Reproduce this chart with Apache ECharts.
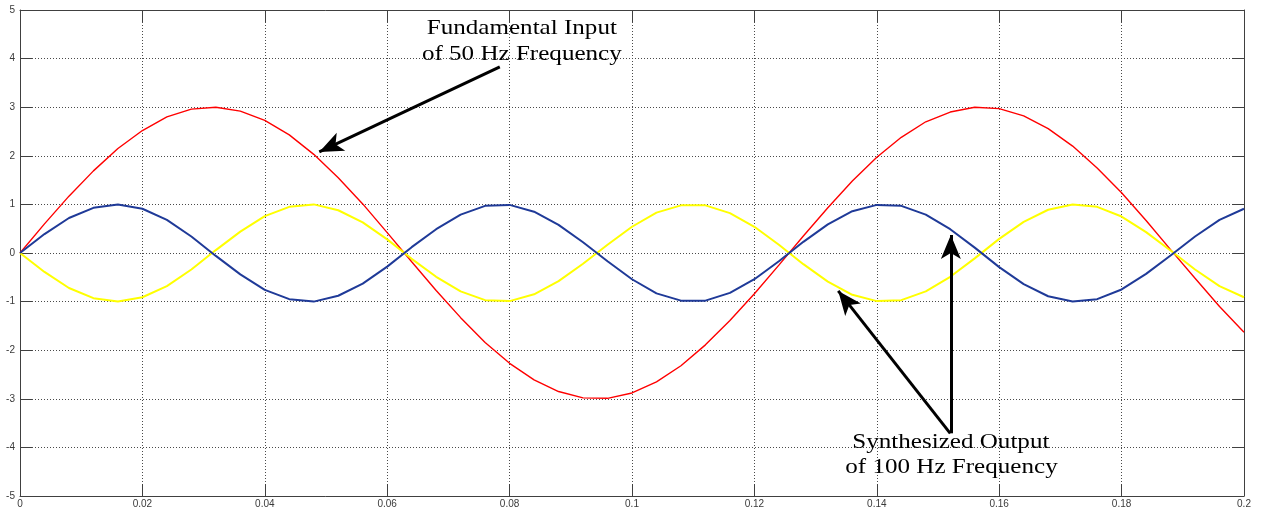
<!DOCTYPE html>
<html>
<head>
<meta charset="utf-8">
<script src="https://cdn.jsdelivr.net/npm/echarts@6.0.0/dist/echarts.min.js"></script>
<style>
  html, body { margin: 0; padding: 0; background: #ffffff; }
  #chart { width: 1261px; height: 512px; }
</style>
</head>
<body>
<div id="chart"></div>
<script>
// Sample times (s)
const time = [
  0, 0.004, 0.008, 0.012, 0.016, 0.02, 0.024, 0.028, 0.032, 0.036,
  0.04, 0.044, 0.048, 0.052, 0.056, 0.06, 0.064, 0.068, 0.072, 0.076,
  0.08, 0.084, 0.088, 0.092, 0.096, 0.1, 0.104, 0.108, 0.112, 0.116,
  0.12, 0.124, 0.128, 0.132, 0.136, 0.14, 0.144, 0.148, 0.152, 0.156,
  0.16, 0.164, 0.168, 0.172, 0.176, 0.18, 0.184, 0.188, 0.192, 0.196,
  0.2
];

// Fundamental input, 50 Hz
const fundamental = [
  0, 0.60, 1.17, 1.69, 2.15, 2.52, 2.80, 2.96, 3.00, 2.92,
  2.73, 2.43, 2.03, 1.55, 1.01, 0.42, -0.18, -0.77, -1.33, -1.84,
  -2.27, -2.61, -2.85, -2.98, -2.99, -2.88, -2.65, -2.32, -1.89, -1.39,
  -0.84, -0.25, 0.35, 0.93, 1.48, 1.97, 2.38, 2.70, 2.90, 3.00,
  2.97, 2.82, 2.56, 2.20, 1.75, 1.24, 0.67, 0.07, -0.52, -1.10,
  -1.63
];

// Synthesized output, 100 Hz
const outputBlue = [
  0, 0.39, 0.72, 0.93, 1.00, 0.91, 0.68, 0.34, -0.06, -0.44,
  -0.76, -0.95, -1.00, -0.88, -0.63, -0.28, 0.12, 0.49, 0.79, 0.97,
  0.99, 0.85, 0.58, 0.22, -0.17, -0.54, -0.83, -0.98, -0.98, -0.82,
  -0.54, -0.17, 0.23, 0.59, 0.86, 0.99, 0.97, 0.79, 0.49, 0.11,
  -0.29, -0.64, -0.89, -1.00, -0.95, -0.75, -0.43, -0.05, 0.34, 0.68,
  0.91
];

// Synthesized output, 100 Hz (opposite phase)
const outputYellow = [
  0, -0.39, -0.72, -0.93, -1.00, -0.91, -0.68, -0.34, 0.06, 0.44,
  0.76, 0.95, 1.00, 0.88, 0.63, 0.28, -0.12, -0.49, -0.79, -0.97,
  -0.99, -0.85, -0.58, -0.22, 0.17, 0.54, 0.83, 0.98, 0.98, 0.82,
  0.54, 0.17, -0.23, -0.59, -0.86, -0.99, -0.97, -0.79, -0.49, -0.11,
  0.29, 0.64, 0.89, 1.00, 0.95, 0.75, 0.43, 0.05, -0.34, -0.68,
  -0.91
];

// Tick labels
const xTickLabels = ['0', '0.02', '0.04', '0.06', '0.08', '0.1', '0.12', '0.14', '0.16', '0.18', '0.2'];
const yTickLabels = ['-5', '-4', '-3', '-2', '-1', '0', '1', '2', '3', '4', '5'];

// Annotation arrows: [tail, head] in data coordinates
const arrows = [
  [[0.0784, 3.83], [0.0489, 2.08]],
  [[0.1520, -3.71], [0.1337, -0.78]],
  [[0.1521, -3.71], [0.1521, 0.37]]
];

// Annotation text lines, centred on a data coordinate
const notes = [
  { text: 'Fundamental Input', at: [0.0820, 4.63] },
  { text: 'of 50 Hz Frequency', at: [0.0820, 4.10] },
  { text: 'Synthesized Output', at: [0.1521, -3.89] },
  { text: 'of 100 Hz Frequency', at: [0.1522, -4.40] }
];

const pair = (vals) => time.map((t, i) => [t, vals[i]]);

const frameColor = '#404040';
const tickLabelStyle = { color: '#3a3a3a', fontSize: 10, fontFamily: '"Liberation Sans", Arial, sans-serif' };
const gridLine = { show: true, lineStyle: { color: '#4a4a4a', width: 1, type: [1, 2] } };

const chart = echarts.init(document.getElementById('chart'), null, { renderer: 'canvas' });

const option = {
  animation: false,
  backgroundColor: '#ffffff',
  grid: { left: 20, right: 17, top: 10, bottom: 16, containLabel: false },
  xAxis: [
    {
      type: 'value', min: 0, max: 0.2, interval: 0.02, position: 'bottom',
      axisLine: { show: true, onZero: false, lineStyle: { color: frameColor, width: 1 } },
      axisTick: { show: true, inside: true, length: 12, lineStyle: { color: frameColor } },
      axisLabel: Object.assign({ margin: 3, formatter: (v) => xTickLabels[Math.round(v / 0.02)] }, tickLabelStyle),
      splitLine: gridLine
    },
    {
      type: 'value', min: 0, max: 0.2, interval: 0.02, position: 'top',
      axisLine: { show: true, onZero: false, lineStyle: { color: frameColor, width: 1 } },
      axisTick: { show: true, inside: true, length: 12, lineStyle: { color: frameColor } },
      axisLabel: { show: false },
      splitLine: { show: false }
    }
  ],
  yAxis: [
    {
      type: 'value', min: -5, max: 5, interval: 1, position: 'left',
      axisLine: { show: true, onZero: false, lineStyle: { color: frameColor, width: 1 } },
      axisTick: { show: true, inside: true, length: 12, lineStyle: { color: frameColor } },
      axisLabel: Object.assign({ margin: 5, formatter: (v) => yTickLabels[Math.round(v) + 5] }, tickLabelStyle),
      splitLine: gridLine
    },
    {
      type: 'value', min: -5, max: 5, interval: 1, position: 'right',
      axisLine: { show: true, onZero: false, lineStyle: { color: frameColor, width: 1 } },
      axisTick: { show: true, inside: true, length: 12, lineStyle: { color: frameColor } },
      axisLabel: { show: false },
      splitLine: { show: false }
    }
  ],
  series: [
    {
      name: 'Fundamental', type: 'line', data: pair(fundamental),
      showSymbol: false, symbol: 'none',
      lineStyle: { color: '#ff0000', width: 1.4 }, z: 2,
      markLine: {
        silent: true, animation: false,
        symbol: ['none', 'arrow'], symbolSize: [15, 24],
        lineStyle: { color: '#000000', width: 3, type: 'solid' },
        label: { show: false },
        emphasis: { disabled: true },
        data: arrows.map(a => [{ coord: a[0] }, { coord: a[1] }])
      }
    },
    {
      name: 'Output B', type: 'line', data: pair(outputYellow),
      showSymbol: false, symbol: 'none',
      lineStyle: { color: '#ffff00', width: 2 }, z: 3
    },
    {
      name: 'Output A', type: 'line', data: pair(outputBlue),
      showSymbol: false, symbol: 'none',
      lineStyle: { color: '#1f3a98', width: 2 }, z: 4
    }
  ]
};

chart.setOption(option);

// Serif annotation text, placed through the chart's coordinate system
const noteGraphics = notes.map(n => {
  const p = chart.convertToPixel({ xAxisIndex: 0, yAxisIndex: 0 }, n.at);
  return {
    type: 'text', x: p[0], y: p[1], scaleX: 1.14, z: 100,
    style: {
      text: n.text, align: 'center', verticalAlign: 'middle',
      font: '22px "Liberation Serif", "Times New Roman", serif', fill: '#000000'
    }
  };
});
chart.setOption({ graphic: noteGraphics });
</script>
</body>
</html>
